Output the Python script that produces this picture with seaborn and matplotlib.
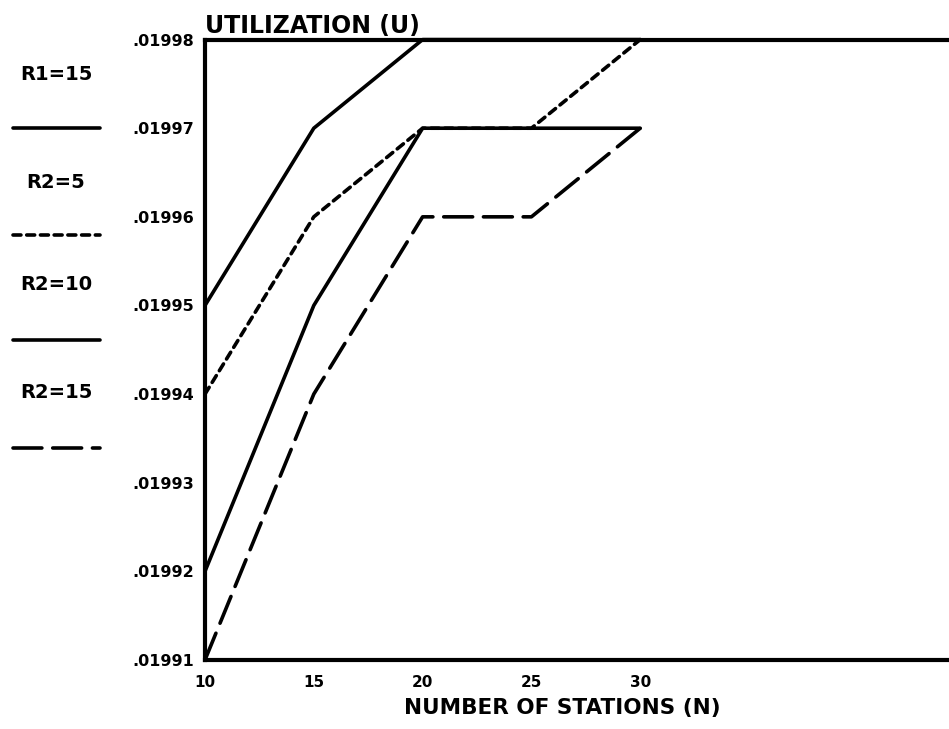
import matplotlib
matplotlib.use("Agg")
import matplotlib.pyplot as plt
from matplotlib.lines import Line2D
import seaborn as sns
import pandas as pd

# ---- data ----
stations = [10, 15, 20, 25, 30]
r2_5 = [0.01995, 0.01997, 0.01998, 0.01998, 0.01998]
r2_10 = [0.01994, 0.01996, 0.01997, 0.01997, 0.01998]
r2_15_solid = [0.01992, 0.01995, 0.01997, 0.01997, 0.01997]
r2_15_dash = [0.01991, 0.01994, 0.01996, 0.01996, 0.01997]
legend_labels = ["R1=15", "R2=5", "R2=10", "R2=15"]
x_ticks = [10, 15, 20, 25, 30, 35, 40]
x_tick_labels = ["10", "15", "20", "25", "30", "", ""]
y_ticks = [0.01991, 0.01992, 0.01993, 0.01994, 0.01995, 0.01996, 0.01997, 0.01998]
y_tick_labels = [".01991", ".01992", ".01993", ".01994", ".01995", ".01996", ".01997", ".01998"]

sns.set_style("white")
plt.rcParams['font.family'] = ['DejaVu Sans']
plt.rcParams['text.color'] = 'black'

fig = plt.figure(figsize=(9.49, 7.29), dpi=100)
ax = fig.add_axes([0.216, 0.0947, 0.79, 0.851])

series = [
    (r2_5, None),
    (r2_10, (2.2, 1.6)),
    (r2_15_solid, None),
    (r2_15_dash, (8, 3)),
]
for vals, dash in series:
    df = pd.DataFrame({"N": stations, "U": vals})
    sns.lineplot(data=df, x="N", y="U", ax=ax, color="black", linewidth=2.6,
                 legend=False)
    line = ax.lines[-1]
    if dash is not None:
        line.set_dashes(dash)
    line.set_clip_on(False)
    line.set_solid_capstyle("round")
    line.set_dash_capstyle("round")

ax.set_xlim(10, 44.45)
ax.set_ylim(0.01991, 0.01998)
ax.set_xticks(x_ticks)
ax.set_xticklabels(x_tick_labels, fontsize=11, fontweight="bold", color="black")
ax.set_yticks(y_ticks)
ax.set_yticklabels(y_tick_labels, fontsize=11.5, fontweight="bold", color="black")
ax.tick_params(axis="both", direction="in", length=5, width=2, colors="black")
ax.tick_params(axis="x", pad=11)
ax.tick_params(axis="y", pad=8)

for side in ["left", "bottom", "top"]:
    ax.spines[side].set_visible(True)
    ax.spines[side].set_color("black")
    ax.spines[side].set_linewidth(3)
ax.spines["right"].set_visible(False)

ax.set_xlabel("NUMBER OF STATIONS (N)", fontsize=15.5, fontweight="bold", color="black")
ax.set_ylabel("")
ax.xaxis.set_label_coords((562 - 205) / (0.79 * 949), -0.061)

fig.text(0.216, 0.965, "UTILIZATION (U)", fontsize=17, fontweight="bold",
         ha="left", va="center", color="black")

# left-side legend
label_y = [75, 182, 285, 393]
line_y = [128, 235, 340, 448]
styles = [None, (2.2, 1.6), None, (8, 3)]
H = 729.0
W = 949.0
for lab, ly, sy, st in zip(legend_labels, label_y, line_y, styles):
    fig.text(56 / W, 1 - ly / H, lab, fontsize=14, fontweight="bold",
             ha="center", va="center", color="black")
    ln = Line2D([13 / W, 100 / W], [1 - sy / H, 1 - sy / H], transform=fig.transFigure,
                color="black", linewidth=2.6, solid_capstyle="round", dash_capstyle="round")
    if st is not None:
        ln.set_dashes(st)
    fig.add_artist(ln)

fig.savefig("out.png", dpi=100, facecolor="white")
